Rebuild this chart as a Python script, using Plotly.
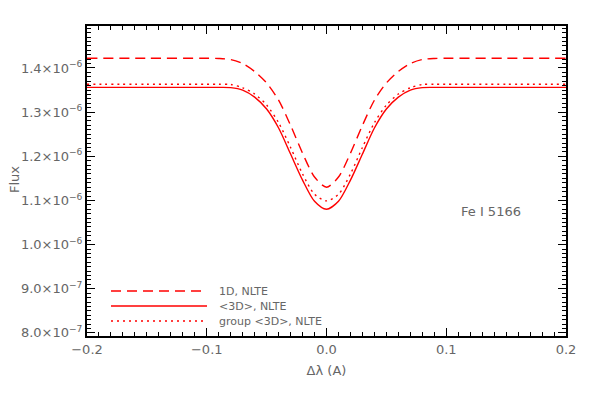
import numpy as np
import plotly.graph_objects as go

# wavelength offset grid (A)
dlam = [-0.2, -0.15, -0.1, -0.09, -0.08, -0.07, -0.06, -0.05, -0.04, -0.03, -0.02, -0.01, 0.0,
        0.01, 0.02, 0.03, 0.04, 0.05, 0.06, 0.07, 0.08, 0.09, 0.1, 0.15, 0.2]

# fluxes in units of 1e-6
flux_1d = [1.422, 1.422, 1.422, 1.4215, 1.419, 1.410, 1.392, 1.366, 1.327, 1.270, 1.207, 1.153, 1.130,
           1.153, 1.207, 1.270, 1.327, 1.366, 1.392, 1.410, 1.419, 1.4215, 1.422, 1.422, 1.422]
flux_3d = [1.356, 1.356, 1.356, 1.356, 1.3555, 1.350, 1.334, 1.307, 1.264, 1.205, 1.146, 1.098, 1.080,
           1.098, 1.146, 1.205, 1.264, 1.307, 1.334, 1.350, 1.3555, 1.356, 1.356, 1.356, 1.356]
flux_group = [1.363, 1.363, 1.363, 1.363, 1.3625, 1.355, 1.341, 1.316, 1.276, 1.220, 1.160, 1.114, 1.099,
              1.114, 1.160, 1.220, 1.276, 1.316, 1.341, 1.355, 1.3625, 1.363, 1.363, 1.363, 1.363]

xticks = [-0.2, -0.1, 0.0, 0.1, 0.2]
xticktext = ["\u22120.2", "\u22120.1", "0.0", "0.1", "0.2"]
yticks = [0.8, 0.9, 1.0, 1.1, 1.2, 1.3, 1.4]
yticktext = ["8.0\u00d710<sup>\u22127</sup>", "9.0\u00d710<sup>\u22127</sup>",
             "1.0\u00d710<sup>\u22126</sup>", "1.1\u00d710<sup>\u22126</sup>",
             "1.2\u00d710<sup>\u22126</sup>", "1.3\u00d710<sup>\u22126</sup>",
             "1.4\u00d710<sup>\u22126</sup>"]

legend_items = [("1D, NLTE", "10px,6px"), ("<3D>, NLTE", "solid"), ("group <3D>, NLTE", "2px,4px")]

RED = "#ff0000"
GREY = "#666666"
FONT = "DejaVu Sans"

fig = go.Figure()
for ys, dash in [(flux_1d, "10px,6px"), (flux_3d, "solid"), (flux_group, "2px,4px")]:
    fig.add_trace(go.Scatter(
        x=dlam, y=ys, mode="lines",
        line=dict(color=RED, width=1.4, dash=dash, shape="spline", smoothing=0.8),
        showlegend=False, hoverinfo="skip",
    ))

# hand drawn legend, in paper coordinates (plot area 479x310 px)
W, H = 479, 310
for i, (label, dash) in enumerate(legend_items):
    yp = (336 - (291 + 15 * i)) / H
    fig.add_shape(type="line", xref="paper", yref="paper",
                  x0=(111 - 87) / W, x1=(207 - 87) / W, y0=yp, y1=yp,
                  line=dict(color=RED, width=1.4, dash=dash))
    fig.add_annotation(xref="paper", yref="paper", x=(217 - 87) / W, y=yp,
                       text=label.replace("<", "&lt;").replace(">", "&gt;"),
                       showarrow=False, xanchor="left", yanchor="middle",
                       font=dict(size=11, color=GREY, family=FONT))

fig.add_annotation(xref="paper", yref="paper", x=(459 - 87) / W, y=(336 - 211) / H,
                   text="Fe I 5166", showarrow=False, xanchor="left", yanchor="middle",
                   font=dict(size=13, color=GREY, family=FONT))
fig.add_annotation(xref="paper", yref="paper", x=0, xshift=-73, xanchor="center",
                   y=(336 - 180) / H, yanchor="middle",
                   text="Flux", textangle=-90, showarrow=False,
                   font=dict(size=13, color=GREY, family=FONT))

axis_common = dict(
    showline=True, linecolor="black", linewidth=2, mirror="ticks",
    ticks="inside", ticklen=8, tickcolor="black", tickwidth=1,
    showgrid=False, zeroline=False,
    tickfont=dict(size=13, color=GREY, family=FONT),
)
fig.update_xaxes(
    range=[-0.2, 0.2], tickvals=xticks, ticktext=xticktext,
    minor=dict(dtick=0.01, ticks="inside", ticklen=4, tickcolor="black", showgrid=False),
    title=dict(text="\u0394\u03bb (A)", font=dict(size=13, color=GREY, family=FONT), standoff=10),
    **axis_common,
)
fig.update_yaxes(
    range=[0.793, 1.495], tickvals=yticks, ticktext=yticktext,
    minor=dict(dtick=0.01, ticks="inside", ticklen=4, tickcolor="black", showgrid=False),
    **axis_common,
)
# page body adds an 8px offset, so the figure is a bit smaller than the window
fig.update_layout(
    width=583, height=385,
    margin=dict(l=79, r=25, t=18, b=57),
    plot_bgcolor="white", paper_bgcolor="white",
)
fig.write_html("out.html")
